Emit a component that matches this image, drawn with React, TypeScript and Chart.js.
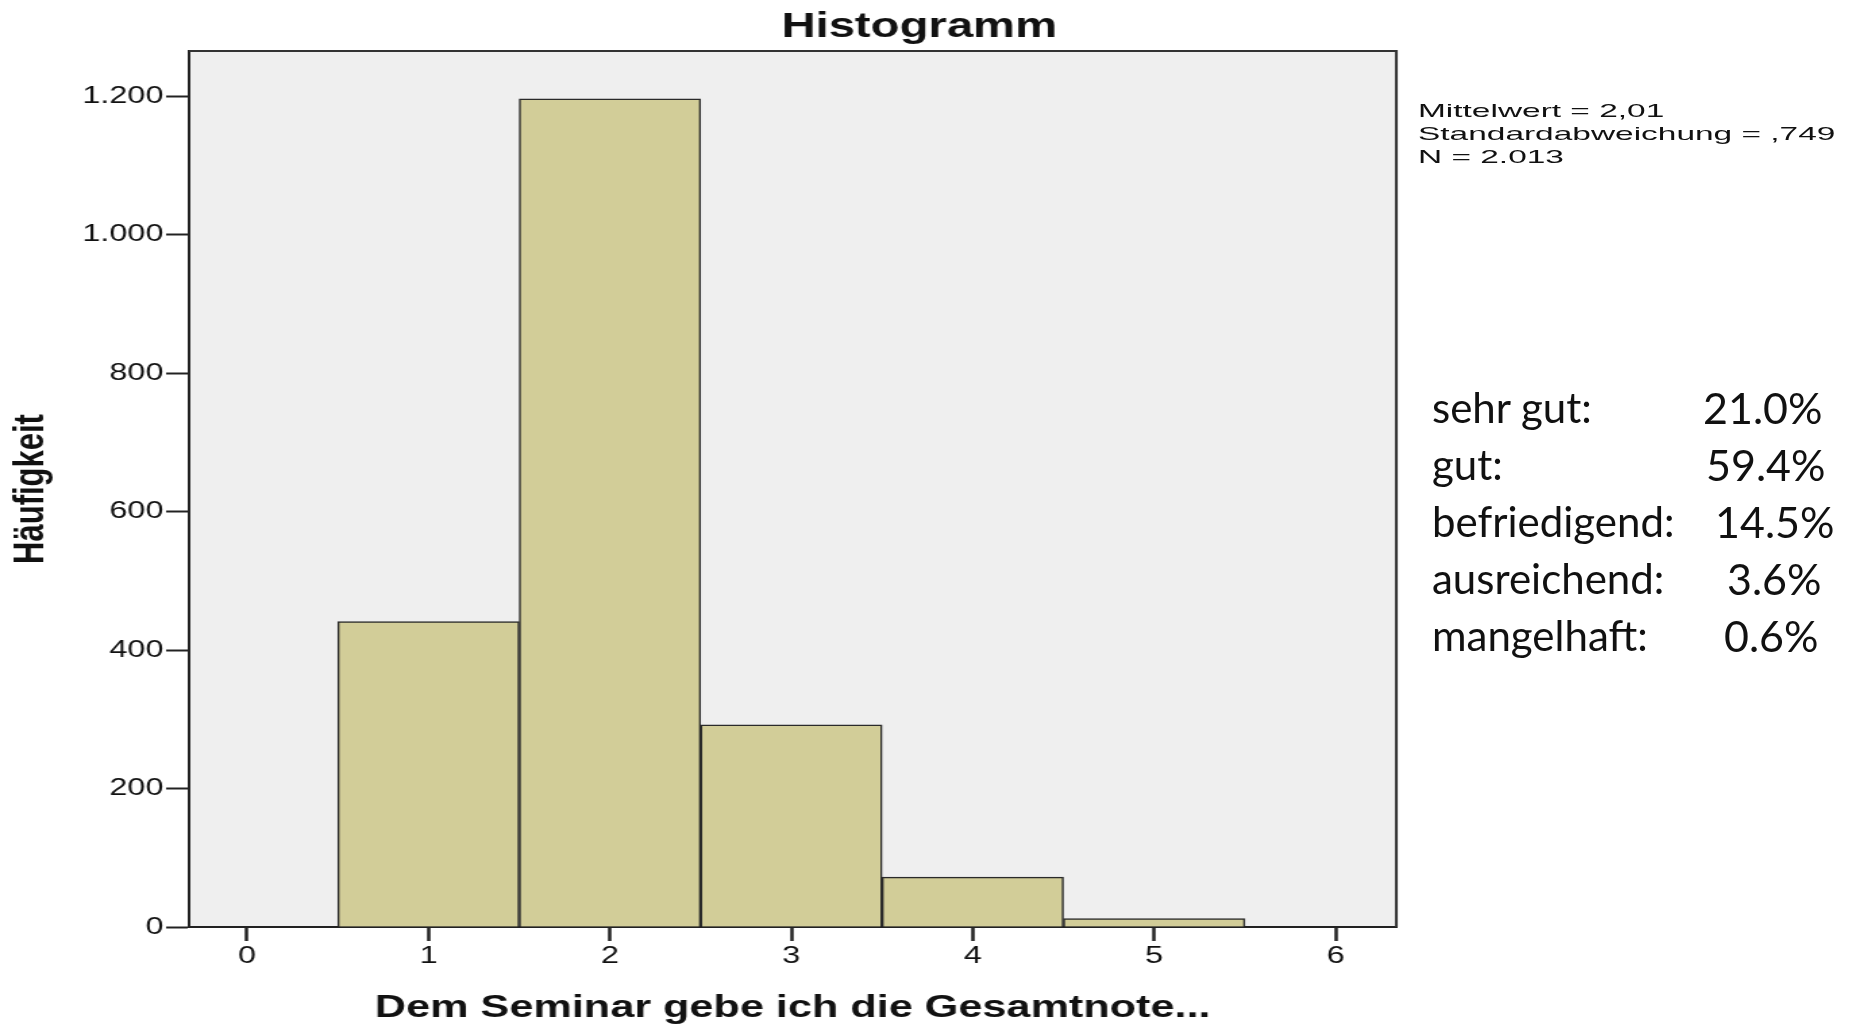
import React, { useEffect, useRef } from 'react';
import { Chart, registerables } from 'chart.js';

Chart.register(...registerables);

// ---------- data ----------
const binCenters = [1, 2, 3, 4, 5];
const counts = [441, 1196, 292, 72, 12];
const xMin = -0.32;
const xMax = 6.335;
const yMax = 1265;
const yStep = 200;
const xStep = 1;

const chartTitle = 'Histogramm';
const xAxisTitle = 'Dem Seminar gebe ich die Gesamtnote...';
const yAxisTitle = 'Häufigkeit';
const statLines = ['Mittelwert = 2,01', 'Standardabweichung = ,749', 'N = 2.013'];
const gradeNames = ['sehr gut:', 'gut:', 'befriedigend:', 'ausreichend:', 'mangelhaft:'];
const gradeShares = ['21.0%', '59.4%', '14.5%', '3.6%', '0.6%'];

// ---------- layout ----------
const FULL_W = 1854;
const FULL_H = 1024;
const STRETCH = 1.35; // the SPSS graphic is stretched horizontally
const CANVAS_W = Math.round(FULL_W / STRETCH);
const PLOT_LEFT = 189;
const PLOT_RIGHT = 1396;
const PLOT_TOP = 51;
const PLOT_BOTTOM = 927;
const shareLeft = [1703, 1706, 1715, 1727, 1724];
const gradeTop0 = 379;
const gradeLineH = 57;

const SPSS_FONT = '"Liberation Sans", Arial, sans-serif';

function formatDE(v: number): string {
  return String(Math.round(v)).replace(/\B(?=(\d{3})+(?!\d))/g, '.');
}

const plotBgPlugin = {
  id: 'plotBg',
  beforeDraw(chart: any) {
    const { ctx, chartArea } = chart;
    ctx.save();
    ctx.fillStyle = '#efefef';
    ctx.fillRect(chartArea.left, chartArea.top, chartArea.right - chartArea.left, chartArea.bottom - chartArea.top);
    ctx.restore();
  },
  afterDraw(chart: any) {
    const { ctx, chartArea } = chart;
    ctx.save();
    ctx.strokeStyle = '#333';
    ctx.lineWidth = 2;
    ctx.beginPath();
    ctx.moveTo(chartArea.left, chartArea.top);
    ctx.lineTo(chartArea.right, chartArea.top);
    ctx.lineTo(chartArea.right, chartArea.bottom);
    ctx.stroke();
    // main title
    ctx.fillStyle = '#111';
    ctx.font = `bold 35px ${SPSS_FONT}`;
    ctx.textAlign = 'center';
    ctx.textBaseline = 'alphabetic';
    ctx.fillText(chartTitle, 919 / STRETCH, 37);
    ctx.restore();
  },
};

export default function App() {
  const canvasRef = useRef<HTMLCanvasElement | null>(null);

  useEffect(() => {
    const canvas = canvasRef.current;
    if (!canvas) return;
    const chart = new Chart(canvas, {
      type: 'bar',
      data: {
        datasets: [
          {
            data: binCenters.map((x, i) => ({ x, y: counts[i] })),
            backgroundColor: '#d2cd98',
            borderColor: '#2a2a2a',
            borderWidth: 1.5,
            barPercentage: 1,
            categoryPercentage: 1,
          },
        ],
      },
      options: {
        responsive: false,
        animation: false,
        devicePixelRatio: 1,
        events: [],
        layout: {
          padding: { top: PLOT_TOP, right: CANVAS_W - PLOT_RIGHT / STRETCH, bottom: 0, left: 0 },
        },
        plugins: {
          legend: { display: false },
          tooltip: { enabled: false },
          title: { display: false },
        },
        scales: {
          x: {
            type: 'linear',
            min: xMin,
            max: xMax,
            offset: false,
            afterFit: (s: any) => {
              s.height = FULL_H - PLOT_BOTTOM;
            },
            ticks: {
              stepSize: xStep,
              includeBounds: false,
              autoSkip: false,
              maxRotation: 0,
              padding: 1,
              color: '#111',
              font: { family: SPSS_FONT, size: 24 },
              callback: (v: any) => String(v),
            },
            grid: {
              display: true,
              drawOnChartArea: false,
              drawTicks: true,
              tickLength: 14,
              tickColor: '#222',
              tickWidth: 2.5,
              offset: false,
            },
            border: { display: true, color: '#222', width: 2 },
            title: {
              display: true,
              text: xAxisTitle,
              color: '#111',
              font: { family: SPSS_FONT, size: 32, weight: 'bold', lineHeight: 1 },
              padding: { top: 0, bottom: 0 },
            },
          },
          y: {
            type: 'linear',
            min: 0,
            max: yMax,
            afterFit: (s: any) => {
              s.width = PLOT_LEFT / STRETCH;
            },
            ticks: {
              stepSize: yStep,
              includeBounds: false,
              padding: 2,
              color: '#111',
              font: { family: SPSS_FONT, size: 24 },
              callback: (v: any) => formatDE(Number(v)),
            },
            grid: {
              display: true,
              drawOnChartArea: false,
              drawTicks: true,
              tickLength: 17,
              tickColor: '#222',
              tickWidth: 2,
            },
            border: { display: true, color: '#222', width: 2 },
            title: {
              display: true,
              text: yAxisTitle,
              color: '#111',
              font: { family: SPSS_FONT, size: 31, weight: 'bold', lineHeight: 1 },
              padding: { top: 7.5, bottom: 0 },
            },
          },
        },
      },
      plugins: [plotBgPlugin],
    } as any);
    return () => chart.destroy();
  }, []);

  return (
    <div
      style={{
        position: 'fixed',
        left: 0,
        top: 0,
        width: FULL_W,
        height: FULL_H,
        background: '#fff',
        overflow: 'hidden',
      }}
    >
      <canvas
        ref={canvasRef}
        width={CANVAS_W}
        height={FULL_H}
        style={{ position: 'absolute', left: 0, top: 0, width: `${FULL_W}px`, height: `${FULL_H}px` }}
      />
      <div
        style={{
          position: 'absolute',
          left: 1418,
          top: 99,
          fontFamily: SPSS_FONT,
          fontSize: 19,
          lineHeight: '23px',
          color: '#111',
          transform: 'scaleX(1.76)',
          transformOrigin: 'left top',
          whiteSpace: 'pre',
        }}
      >
        {statLines.map((l) => (
          <div key={l}>{l}</div>
        ))}
      </div>
      {gradeNames.map((name, i) => (
        <React.Fragment key={name}>
          <div
            style={{
              position: 'absolute',
              left: 1432,
              top: gradeTop0 + i * gradeLineH,
              fontFamily: 'Lato, "Open Sans", sans-serif',
              fontSize: 42,
              lineHeight: `${gradeLineH}px`,
              color: '#111',
              whiteSpace: 'pre',
            }}
          >
            {name}
          </div>
          <div
            style={{
              position: 'absolute',
              left: shareLeft[i],
              top: gradeTop0 + i * gradeLineH,
              fontFamily: 'Lato, "Open Sans", sans-serif',
              fontSize: 43,
              lineHeight: `${gradeLineH}px`,
              color: '#111',
              whiteSpace: 'pre',
            }}
          >
            {gradeShares[i]}
          </div>
        </React.Fragment>
      ))}
    </div>
  );
}
